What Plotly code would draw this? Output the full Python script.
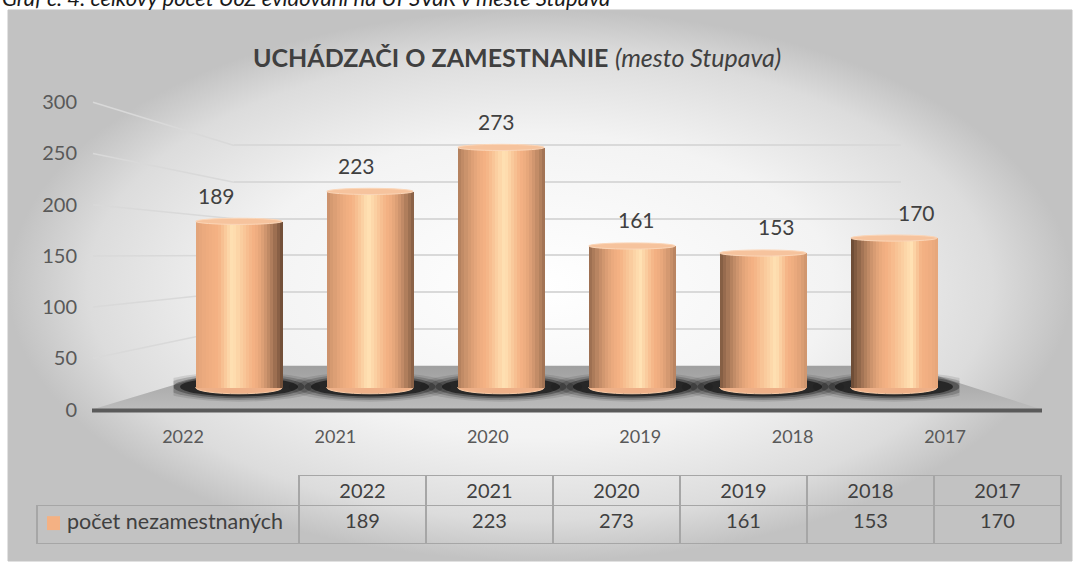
import plotly.graph_objects as go

# ---------------- data ----------------
years = ["2022", "2021", "2020", "2019", "2018", "2017"]
values = [189, 223, 273, 161, 153, 170]
y_ticks = [0, 50, 100, 150, 200, 250, 300]
series_name = "počet nezamestnaných"
title_main = "UCHÁDZAČI O ZAMESTNANIE"
title_sub = "(mesto Stupava)"
caption = "Graf č. 4: celkový počet UoZ evidovaní na ÚPSVaR v meste Stupava"

# ---------------- geometry / style ----------------
W, H = 1073, 565
FONT = "Lato"
TXT = "#404040"
AX_TXT = "#595959"
GRID = "#d9d9d9"
PEACH = "#F4B183"
PLOT_TOP, PLOT_BOT = 60, 420

def fx(p):
    return p / W

def fy(p):
    return 1 - p / H

# front plane (axis labels)
FRONT_X = (106.8, 1021.2)
FRONT_Y0, FRONT_SCALE = 411.0, 1.028
# back wall (gridlines)
BACK_X = (234, 901)
BACK_Y0, BACK_SCALE = 366.8, 0.736
# bar plane
BAR_X = (173.5, 959.5)
BAR_Y0, BAR_SCALE = 389.0, 0.883
BAR_W = 0.66

n = len(years)
idx = list(range(n))

fig = go.Figure()

# ---------- canvas subplot (pixel coordinates) ----------
fig.add_trace(go.Scatter(
    x=[8, 1072, 1072, 8, 8], y=[10, 10, 563, 563, 10],
    mode="lines", fill="toself",
    line=dict(color="#c4c4c4", width=1),
    fillgradient=dict(type="radial",
                      colorscale=[[0, "#ffffff"], [0.55, "#f3f3f3"], [0.85, "#dcdcdc"], [1, "#c2c2c2"]]),
    hoverinfo="skip", xaxis="x", yaxis="y"))

# perspective connectors of the gridlines (left side wall)
gx, gy = [], []
for v in y_ticks[1:]:
    gx += [93, BACK_X[0], None]
    gy += [FRONT_Y0 - FRONT_SCALE * v, BACK_Y0 - BACK_SCALE * v, None]
fig.add_trace(go.Scatter(x=gx, y=gy, mode="lines", line=dict(color=GRID, width=1.5),
                         hoverinfo="skip", xaxis="x", yaxis="y"))

# floor
fig.add_trace(go.Scatter(
    x=[92, 238, 905, 1042, 92], y=[411, 367, 367, 411, 411],
    mode="lines", fill="toself", line=dict(width=0, color="rgba(0,0,0,0)"),
    fillgradient=dict(type="vertical", start=367, stop=411,
                      colorscale=[[0, "#a0a0a0"], [1, "#bdbdbd"]]),
    hoverinfo="skip", xaxis="x", yaxis="y"))
fig.add_trace(go.Scatter(x=[92, 1042], y=[412, 412], mode="lines",
                         line=dict(color="#5a5a5a", width=4),
                         hoverinfo="skip", xaxis="x", yaxis="y"))

# ---------- back wall gridlines subplot ----------
fig.add_trace(go.Scatter(x=idx, y=values, mode="none", hoverinfo="skip",
                         xaxis="x2", yaxis="y2"))

# ---------- bars (cylinders built from vertical shading strips) ----------
LIGHT = (255, 226, 180)
BASE = (244, 177, 131)
DARK = (88, 60, 42)

def mix(a, b, t):
    return tuple(a[k] + (b[k] - a[k]) * t for k in range(3))

def shade(i, t):
    h = 0.42 + 0.055 * i
    d_left = 0.12 + 0.16 * i
    d_right = 0.90 - 0.16 * i
    if t <= h:
        u, d = (h - t) / h, d_left
    else:
        u, d = (t - h) / (1 - h), d_right
    if u < 0.4:
        c = mix(LIGHT, BASE, u / 0.4)
    else:
        c = mix(BASE, DARK, d * ((u - 0.4) / 0.6) ** 1.6)
    return "rgb(%d,%d,%d)" % tuple(int(round(x)) for x in c)

N_STRIPS = 28
for k in range(N_STRIPS):
    t = (k + 0.5) / N_STRIPS
    start = -BAR_W / 2 + k * BAR_W / N_STRIPS
    fig.add_trace(go.Bar(
        x=idx, y=values,
        width=BAR_W / 2 - start, offset=start,
        marker=dict(color=[shade(i, t) for i in idx], line=dict(width=0)),
        hoverinfo="skip", xaxis="x3", yaxis="y3"))

# blurred shadows under cylinders + curved cylinder bottoms + top caps
for i, v in zip(idx, values):
    for dx, y0, y1, col in [(0.62, -16, 18, "rgba(0,0,0,0.10)"),
                            (0.56, -14, 16, "rgba(0,0,0,0.18)"),
                            (0.50, -12, 14, "rgba(0,0,0,0.30)"),
                            (0.45, -10, 12, "rgba(0,0,0,0.55)")]:
        fig.add_shape(type="circle", xref="x3", yref="y3",
                      x0=i - dx, x1=i + dx, y0=y0, y1=y1,
                      fillcolor=col, line=dict(width=0), layer="below")
    fig.add_shape(type="circle", xref="x3", yref="y3",
                  x0=i - BAR_W / 2, x1=i + BAR_W / 2, y0=-7, y1=7,
                  fillcolor="#eeb088", line=dict(width=1, color="#f8caa6"), layer="below")
    fig.add_shape(type="circle", xref="x3", yref="y3",
                  x0=i - BAR_W / 2, x1=i + BAR_W / 2, y0=v - 3.5, y1=v + 3.5,
                  fillcolor="#f6c39d", line=dict(width=1, color="#fbd6b8"), layer="above")

# data labels
for i, v in zip(idx, values):
    fig.add_annotation(x=i, y=v, xref="x3", yref="y3", text=str(v),
                       showarrow=False, yanchor="middle", yshift=26,
                       xshift=(i - 2.5) * 9,
                       font=dict(family=FONT, size=21, color=TXT))

# ---------- front axis (labels) ----------
fig.add_trace(go.Scatter(x=idx, y=values, mode="none", hoverinfo="skip",
                         xaxis="x4", yaxis="y4"))

dom_y = [fy(PLOT_BOT), fy(PLOT_TOP)]
hidden = dict(visible=False, showgrid=False, zeroline=False, fixedrange=True)

fig.update_layout(
    width=W, height=H,
    margin=dict(l=0, r=0, t=0, b=0),
    paper_bgcolor="white", plot_bgcolor="rgba(0,0,0,0)",
    barmode="overlay", bargap=0, showlegend=False,
    font=dict(family=FONT, color=TXT),
    xaxis=dict(domain=[0, 1], range=[0, W], **hidden),
    yaxis=dict(domain=[0, 1], range=[H, 0], **hidden),
    xaxis2=dict(domain=[fx(BACK_X[0]), fx(BACK_X[1])], range=[-0.5, n - 0.5], anchor="y2", **hidden),
    yaxis2=dict(domain=dom_y, anchor="x2",
                range=[(BACK_Y0 - PLOT_BOT) / BACK_SCALE, (BACK_Y0 - PLOT_TOP) / BACK_SCALE],
                tickvals=y_ticks[1:], showgrid=True, gridcolor=GRID, gridwidth=1.5,
                showticklabels=False, zeroline=False, showline=False, fixedrange=True),
    xaxis3=dict(domain=[fx(BAR_X[0]), fx(BAR_X[1])], range=[-0.5, n - 0.5], anchor="y3", **hidden),
    yaxis3=dict(domain=dom_y, anchor="x3",
                range=[(BAR_Y0 - PLOT_BOT) / BAR_SCALE, (BAR_Y0 - PLOT_TOP) / BAR_SCALE], **hidden),
    xaxis4=dict(domain=[fx(FRONT_X[0]), fx(FRONT_X[1])], range=[-0.5, n - 0.5], anchor="y4",
                tickvals=idx, ticktext=years, showgrid=False, zeroline=False, showline=False,
                ticks="", ticklabelstandoff=5,
                tickfont=dict(family=FONT, size=18, color=AX_TXT), fixedrange=True),
    yaxis4=dict(domain=dom_y, anchor="free", position=fx(77),
                range=[(FRONT_Y0 - PLOT_BOT) / FRONT_SCALE, (FRONT_Y0 - PLOT_TOP) / FRONT_SCALE],
                tickvals=y_ticks, showgrid=False, zeroline=False, showline=False, ticks="",
                tickfont=dict(family=FONT, size=20, color=AX_TXT), fixedrange=True),
)

# title and caption
fig.add_annotation(xref="paper", yref="paper", x=fx(517), y=fy(57),
                   text="<b>%s</b> <i>%s</i>" % (title_main, title_sub),
                   showarrow=False, xanchor="center", yanchor="middle",
                   font=dict(family=FONT, size=25, color=TXT))
fig.add_annotation(xref="paper", yref="paper", x=0, y=fy(-3),
                   text="<i>%s</i>" % caption,
                   showarrow=False, xanchor="left", yanchor="middle",
                   font=dict(family=FONT, size=22, color="#1a1a1a"))

# ---------- data table ----------
LINE = "#a6a6a6"
fig.add_trace(go.Table(
    domain=dict(x=[fx(37), fx(1061)], y=[fy(550), fy(477)]),
    columnwidth=[262] + [127] * n,
    header=dict(values=[""] + years, height=30,
                fill_color="rgba(0,0,0,0)",
                line=dict(color=["rgba(0,0,0,0)"] + [LINE] * n, width=1.5),
                align="center", font=dict(family=FONT, size=20, color=TXT)),
    cells=dict(values=[["    " + series_name]] + [[v] for v in values], height=38,
               fill_color="rgba(0,0,0,0)",
               line=dict(color=LINE, width=1.5),
               align=["left"] + ["center"] * n,
               font=dict(family=FONT, size=[21.5] + [20] * n, color=TXT)),
))
# legend key square in the table
fig.add_shape(type="rect", xref="paper", yref="paper",
              x0=fx(47), x1=fx(60), y0=fy(532), y1=fy(518),
              fillcolor=PEACH, line=dict(width=0), layer="above")

fig.write_html("out.html", config={"displayModeBar": False},
               post_script="document.body.style.margin='0';document.body.style.overflow='hidden';")
